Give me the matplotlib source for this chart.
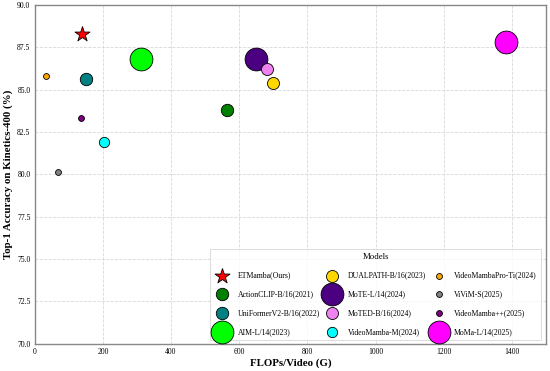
import matplotlib
matplotlib.use("Agg")
import matplotlib.pyplot as plt

models = ["ETMamba(Ours)", "ActionCLIP-B/16(2021)", "UniFormerV2-B/16(2022)", "AIM-L/14(2023)",
          "DUALPATH-B/16(2023)", "MoTE-L/14(2024)", "MoTED-B/16(2024)", "VideoMamba-M(2024)",
          "VideoMambaPro-Ti(2024)", "ViViM-S(2025)", "VideoMamba++(2025)", "MoMa-L/14(2025)"]
flops = [140, 564, 150, 311, 700, 648, 680, 203, 34, 68, 135, 1383]
acc = [88.3, 83.8, 85.6, 86.8, 85.4, 86.8, 86.2, 81.9, 85.8, 80.1, 83.3, 87.8]
colors = ["red", "green", "teal", "lime", "gold", "indigo", "violet", "cyan",
          "orange", "gray", "purple", "magenta"]
sizes = [130, 80, 80, 270, 75, 270, 75, 55, 18, 18, 18, 270]
markers = ["*"] + ["o"] * 11

plt.rcParams['font.family'] = ['Liberation Serif', 'DejaVu Serif']

fig, ax = plt.subplots(figsize=(5.5, 3.71), dpi=100)
for m, f, a, c, s, mk in zip(models, flops, acc, colors, sizes, markers):
    ax.scatter(f, a, s=s, c=c, marker=mk, edgecolors="black", linewidths=0.6,
               label=m, zorder=3)

ax.set_xlim(0, 1500)
ax.set_ylim(70, 90)
yt = [70.0, 72.5, 75.0, 77.5, 80.0, 82.5, 85.0, 87.5, 90.0]
ax.set_xticks([0, 200, 400, 600, 800, 1000, 1200, 1400])
ax.set_yticks(yt)
ax.set_yticklabels([f"{v:.1f}" for v in yt])
ax.tick_params(labelsize=5.5, length=0, pad=3)
ax.grid(True, linestyle="--", color="#d8d8d8", linewidth=0.6, zorder=0)
for sp in ax.spines.values():
    sp.set_color("#888888")
    sp.set_linewidth(1.0)

ax.set_xlabel("FLOPs/Video (G)", fontsize=7.8, fontweight="bold", labelpad=2)
ax.set_ylabel("Top-1 Accuracy on Kinetics-400 (%)", fontsize=7.8, fontweight="bold", labelpad=3)

leg = ax.legend(loc="lower right", ncol=3, title="Models", fontsize=5.6, title_fontsize=6.3,
                frameon=True, edgecolor="#cccccc", fancybox=False, borderpad=0.5,
                labelspacing=1.38, columnspacing=0.6, handletextpad=1.0,
                bbox_to_anchor=(0.997, 0.0))
leg.get_frame().set_linewidth(0.6)

fig.subplots_adjust(left=0.063, right=0.993, top=0.987, bottom=0.074)
fig.savefig("out.png", dpi=100)
